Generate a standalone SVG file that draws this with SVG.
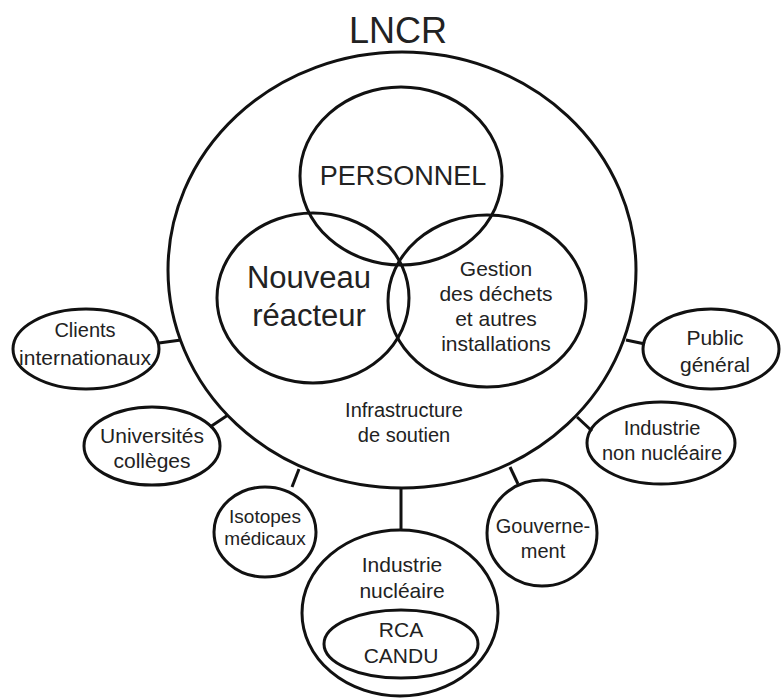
<svg xmlns="http://www.w3.org/2000/svg" width="781" height="698" viewBox="0 0 781 698">
<style>
.n{fill:none;stroke:#111;stroke-width:3}
.c{stroke:#111;stroke-width:3;fill:none}
text{font-family:"Liberation Sans",Arial,sans-serif;fill:#222;text-anchor:middle}
.s{font-size:20px}
</style>
<rect width="781" height="698" fill="#fff"/>
<g id="connectors">
<line class="c" x1="159" y1="343" x2="181" y2="340"/>
<line class="c" x1="210" y1="427" x2="228" y2="415"/>
<line class="c" x1="299" y1="469" x2="292" y2="487"/>
<line class="c" x1="401" y1="488" x2="401" y2="530"/>
<line class="c" x1="510" y1="467" x2="518" y2="484"/>
<line class="c" x1="577" y1="417" x2="592" y2="431"/>
<line class="c" x1="626" y1="340" x2="645" y2="344"/>
</g>
<g id="lncr">
<ellipse class="n" cx="402" cy="270" rx="234" ry="218"/>
<text x="398" y="43" style="font-size:36px">LNCR</text>
<text class="s" x="404" y="417">Infrastructure</text>
<text class="s" x="404" y="442">de soutien</text>
</g>
<g id="personnel">
<ellipse class="n" cx="401" cy="176" rx="101" ry="89"/>
<text x="403" y="185" style="font-size:27px">PERSONNEL</text>
</g>
<g id="reacteur">
<ellipse class="n" cx="313" cy="298" rx="96" ry="85"/>
<text x="309" y="288" style="font-size:31px">Nouveau</text>
<text x="309" y="326" style="font-size:31px">réacteur</text>
</g>
<g id="gestion">
<ellipse class="n" cx="487" cy="301" rx="99" ry="86"/>
<text x="496" y="276" style="font-size:21px">Gestion</text>
<text x="496" y="301" style="font-size:21px">des déchets</text>
<text x="496" y="326" style="font-size:21px">et autres</text>
<text x="496" y="351" style="font-size:21px">installations</text>
</g>
<g id="clients">
<ellipse class="n" cx="86" cy="349" rx="73" ry="40"/>
<text class="s" x="85" y="337">Clients</text>
<text class="s" x="85" y="365" style="font-size:21px">internationaux</text>
</g>
<g id="universites">
<ellipse class="n" cx="152" cy="446" rx="68" ry="39"/>
<text x="152" y="443" style="font-size:21px">Universités</text>
<text x="152" y="468" style="font-size:21px">collèges</text>
</g>
<g id="isotopes">
<ellipse class="n" cx="265" cy="532" rx="51" ry="45"/>
<text x="265" y="523" style="font-size:19px">Isotopes</text>
<text x="265" y="545" style="font-size:19px">médicaux</text>
</g>
<g id="industrie-nucleaire">
<ellipse class="n" cx="400" cy="613" rx="98" ry="83"/>
<text x="402" y="572" style="font-size:21px">Industrie</text>
<text x="402" y="598" style="font-size:21px">nucléaire</text>
<g id="rca-candu">
<ellipse class="n" cx="401" cy="644" rx="77" ry="34"/>
<text x="401" y="637" style="font-size:21px">RCA</text>
<text x="401" y="663" style="font-size:21px">CANDU</text>
</g>
</g>
<g id="gouvernement">
<ellipse class="n" cx="542" cy="533" rx="55" ry="53"/>
<text x="543" y="533" style="font-size:20px">Gouverne-</text>
<text x="543" y="558" style="font-size:20px">ment</text>
</g>
<g id="industrie-non-nucleaire">
<ellipse class="n" cx="661" cy="443" rx="74" ry="41"/>
<text x="662" y="435" style="font-size:20px">Industrie</text>
<text x="662" y="460" style="font-size:20px">non nucléaire</text>
</g>
<g id="public">
<ellipse class="n" cx="711" cy="349" rx="68" ry="40"/>
<text x="715" y="345" style="font-size:21px">Public</text>
<text x="715" y="372" style="font-size:21px">général</text>
</g>
</svg>
